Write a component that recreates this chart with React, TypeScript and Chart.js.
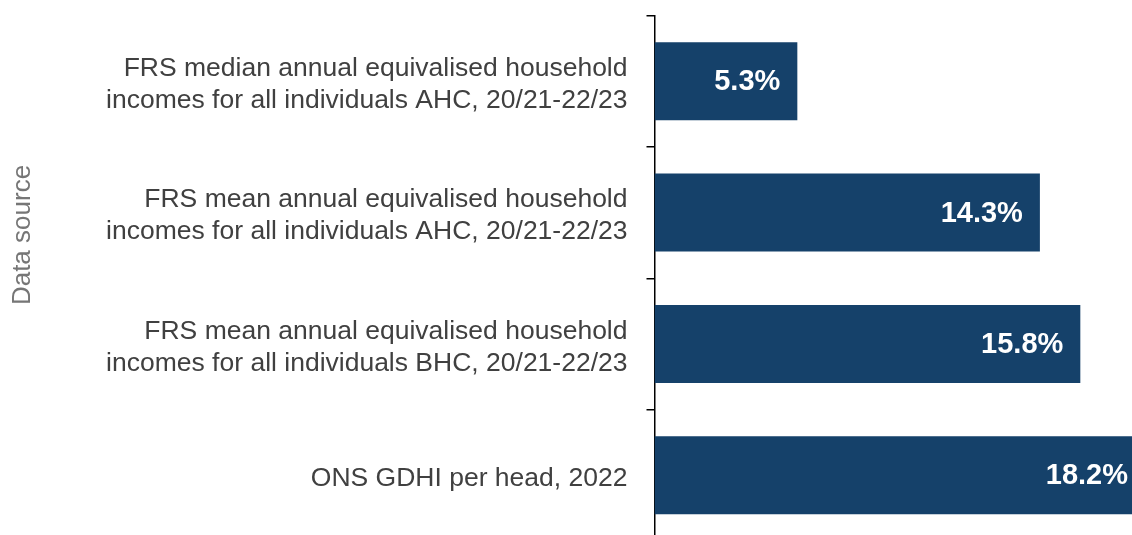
import React, { useEffect, useRef } from "react";
import { Chart, registerables } from "chart.js";

Chart.register(...registerables);

const categories: string[][] = [
  ["FRS median annual equivalised household", "incomes for all individuals AHC, 20/21-22/23"],
  ["FRS mean annual equivalised household", "incomes for all individuals AHC, 20/21-22/23"],
  ["FRS mean annual equivalised household", "incomes for all individuals BHC, 20/21-22/23"],
  ["ONS GDHI per head, 2022"],
];
const values: number[] = [5.3, 14.3, 15.8, 18.2];
const valueLabels: string[] = ["5.3%", "14.3%", "15.8%", "18.2%"];
const axisTitle = "Data source";

const FONT = "'Liberation Sans', Arial, sans-serif";
const BAR_COLOR = "#15416A";

const barLabelPlugin = {
  id: "barLabels",
  afterDatasetsDraw(chart: any) {
    const ctx = chart.ctx;
    const meta = chart.getDatasetMeta(0);
    ctx.save();
    ctx.font = `bold 29px ${FONT}`;
    ctx.fillStyle = "#ffffff";
    ctx.textAlign = "right";
    ctx.textBaseline = "middle";
    meta.data.forEach((el: any, i: number) => {
      ctx.fillText(valueLabels[i], el.x - 17, el.y + 1);
    });
    ctx.restore();
  },
};

const axisTitlePlugin = {
  id: "axisTitle",
  afterDraw(chart: any) {
    const ctx = chart.ctx;
    ctx.save();
    ctx.font = `26px ${FONT}`;
    ctx.fillStyle = "#767676";
    ctx.textAlign = "center";
    ctx.textBaseline = "middle";
    ctx.translate(23, 235);
    ctx.rotate(-Math.PI / 2);
    ctx.fillText(axisTitle, 0, 0);
    ctx.restore();
  },
};

export default function App() {
  const ref = useRef<HTMLCanvasElement | null>(null);
  useEffect(() => {
    document.body.style.margin = "0";
    document.body.style.overflow = "hidden";
    const chart = new Chart(ref.current as HTMLCanvasElement, {
      type: "bar",
      data: {
        labels: categories,
        datasets: [
          {
            data: values,
            backgroundColor: BAR_COLOR,
            barPercentage: 0.594,
            categoryPercentage: 1,
          },
        ],
      },
      options: {
        indexAxis: "y",
        animation: false,
        responsive: false,
        devicePixelRatio: 1,
        layout: { padding: { left: 0, right: 5, top: 15.5, bottom: 4 } },
        plugins: { legend: { display: false }, tooltip: { enabled: false } },
        scales: {
          x: { display: false, min: 0, max: 18.2 },
          y: {
            afterFit: (scale: any) => {
              scale.width = 654.5;
              scale.paddingTop = 0;
              scale.paddingBottom = 0;
            },
            border: { display: true, color: "#000000", width: 1.5 },
            grid: {
              display: true,
              offset: true,
              drawOnChartArea: false,
              drawTicks: true,
              tickLength: 8,
              color: "#000000",
              lineWidth: 1.5,
            },
            ticks: {
              padding: 19,
              labelOffset: 3.5,
              color: "#404040",
              font: { family: FONT, size: 26.5, lineHeight: 1.21 },
            },
            title: { display: false },
          },
        },
      },
      plugins: [barLabelPlugin, axisTitlePlugin],
    });
    return () => chart.destroy();
  }, []);
  return (
    <div style={{ position: "fixed", left: 0, top: 0, width: 1132, height: 535, overflow: "hidden" }}>
      <canvas ref={ref} width={1150} height={545} style={{ display: "block" }} />
    </div>
  );
}
